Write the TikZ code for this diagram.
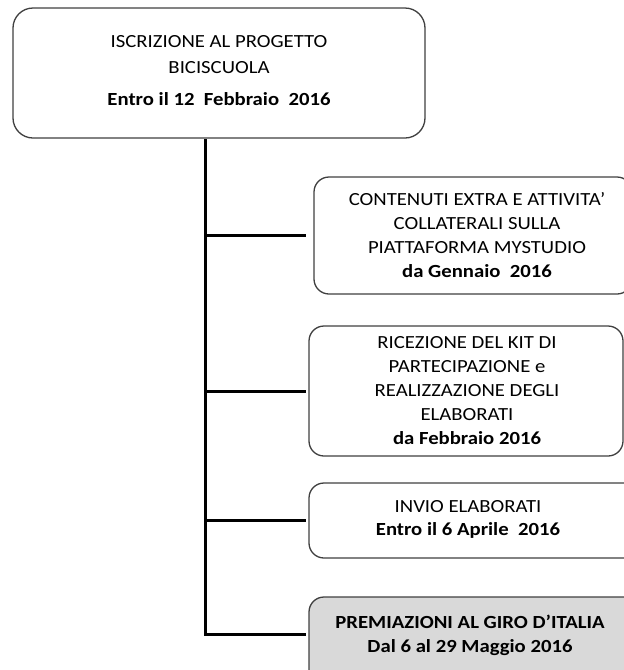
\documentclass[tikz,border=0pt]{standalone}
\usepackage{fontspec}
\setmainfont{Carlito}[FakeStretch=1.12]
\definecolor{boxgray}{HTML}{D9D9D9}
\definecolor{edge}{HTML}{404040}
\tikzset{
  box/.style={draw=edge, line width=1.3pt, rounded corners=15pt, fill=white, inner sep=0pt},
  lbl/.style={align=center, font=\fontsize{18.5}{24}\selectfont, inner sep=0pt, text=black},
  conn/.style={line width=3pt, line join=miter},
}
\begin{document}
\begin{tikzpicture}[x=1pt,y=1pt]
\useasboundingbox (0,0) rectangle (624,-670);
\clip (0,0) rectangle (624,-670);
% boxes
\node[box, rounded corners=20pt, minimum width=412pt, minimum height=130pt] (top) at (219,-73) {};
\node[box, minimum width=318pt, minimum height=117pt] (b1) at (473,-235.5) {};
\node[box, minimum width=314pt, minimum height=130pt] (b2) at (466,-391) {};
\node[box, minimum width=341pt, minimum height=75pt] (b3) at (479.5,-520.5) {};
\node[box, fill=boxgray, minimum width=341pt, minimum height=103pt] (b4) at (479.5,-648.5) {};
% texts
\node[lbl, font=\fontsize{18.5}{26}\selectfont] (t0) at (219,-71) {ISCRIZIONE AL PROGETTO\\BICISCUOLA\\[6pt]\textbf{Entro il 12\ \ Febbraio\ \ 2016}};
\node[lbl] (t1) at (477,-235) {CONTENUTI EXTRA E ATTIVITA’\\COLLATERALI SULLA\\PIATTAFORMA MYSTUDIO\\\textbf{da Gennaio\ \ 2016}};
\node[lbl] (t2) at (467,-391) {RICEZIONE DEL KIT DI\\PARTECIPAZIONE e\\REALIZZAZIONE DEGLI\\ELABORATI\\\textbf{da Febbraio 2016}};
\node[lbl, font=\fontsize{18.5}{23}\selectfont] (t3) at (468,-519.5) {INVIO ELABORATI\\\textbf{Entro il 6 Aprile\ \ 2016}};
\node[lbl] (t4) at (470,-635) {\textbf{PREMIAZIONI AL GIRO D’ITALIA}\\\textbf{Dal 6 al 29 Maggio 2016}};
% connectors
\coordinate (j) at (205,-634);
\coordinate (s) at (205,-139);
\draw[conn, shorten >=2pt] (s) -- (j) -- (j -| b4.west);
\draw[conn, shorten >=7pt] (s |- b1.west) -- (b1.west);
\draw[conn, shorten >=2pt] (s |- b2.west) -- (b2.west);
\draw[conn, shorten >=2pt] (s |- b3.west) -- (b3.west);
\end{tikzpicture}
\end{document}
